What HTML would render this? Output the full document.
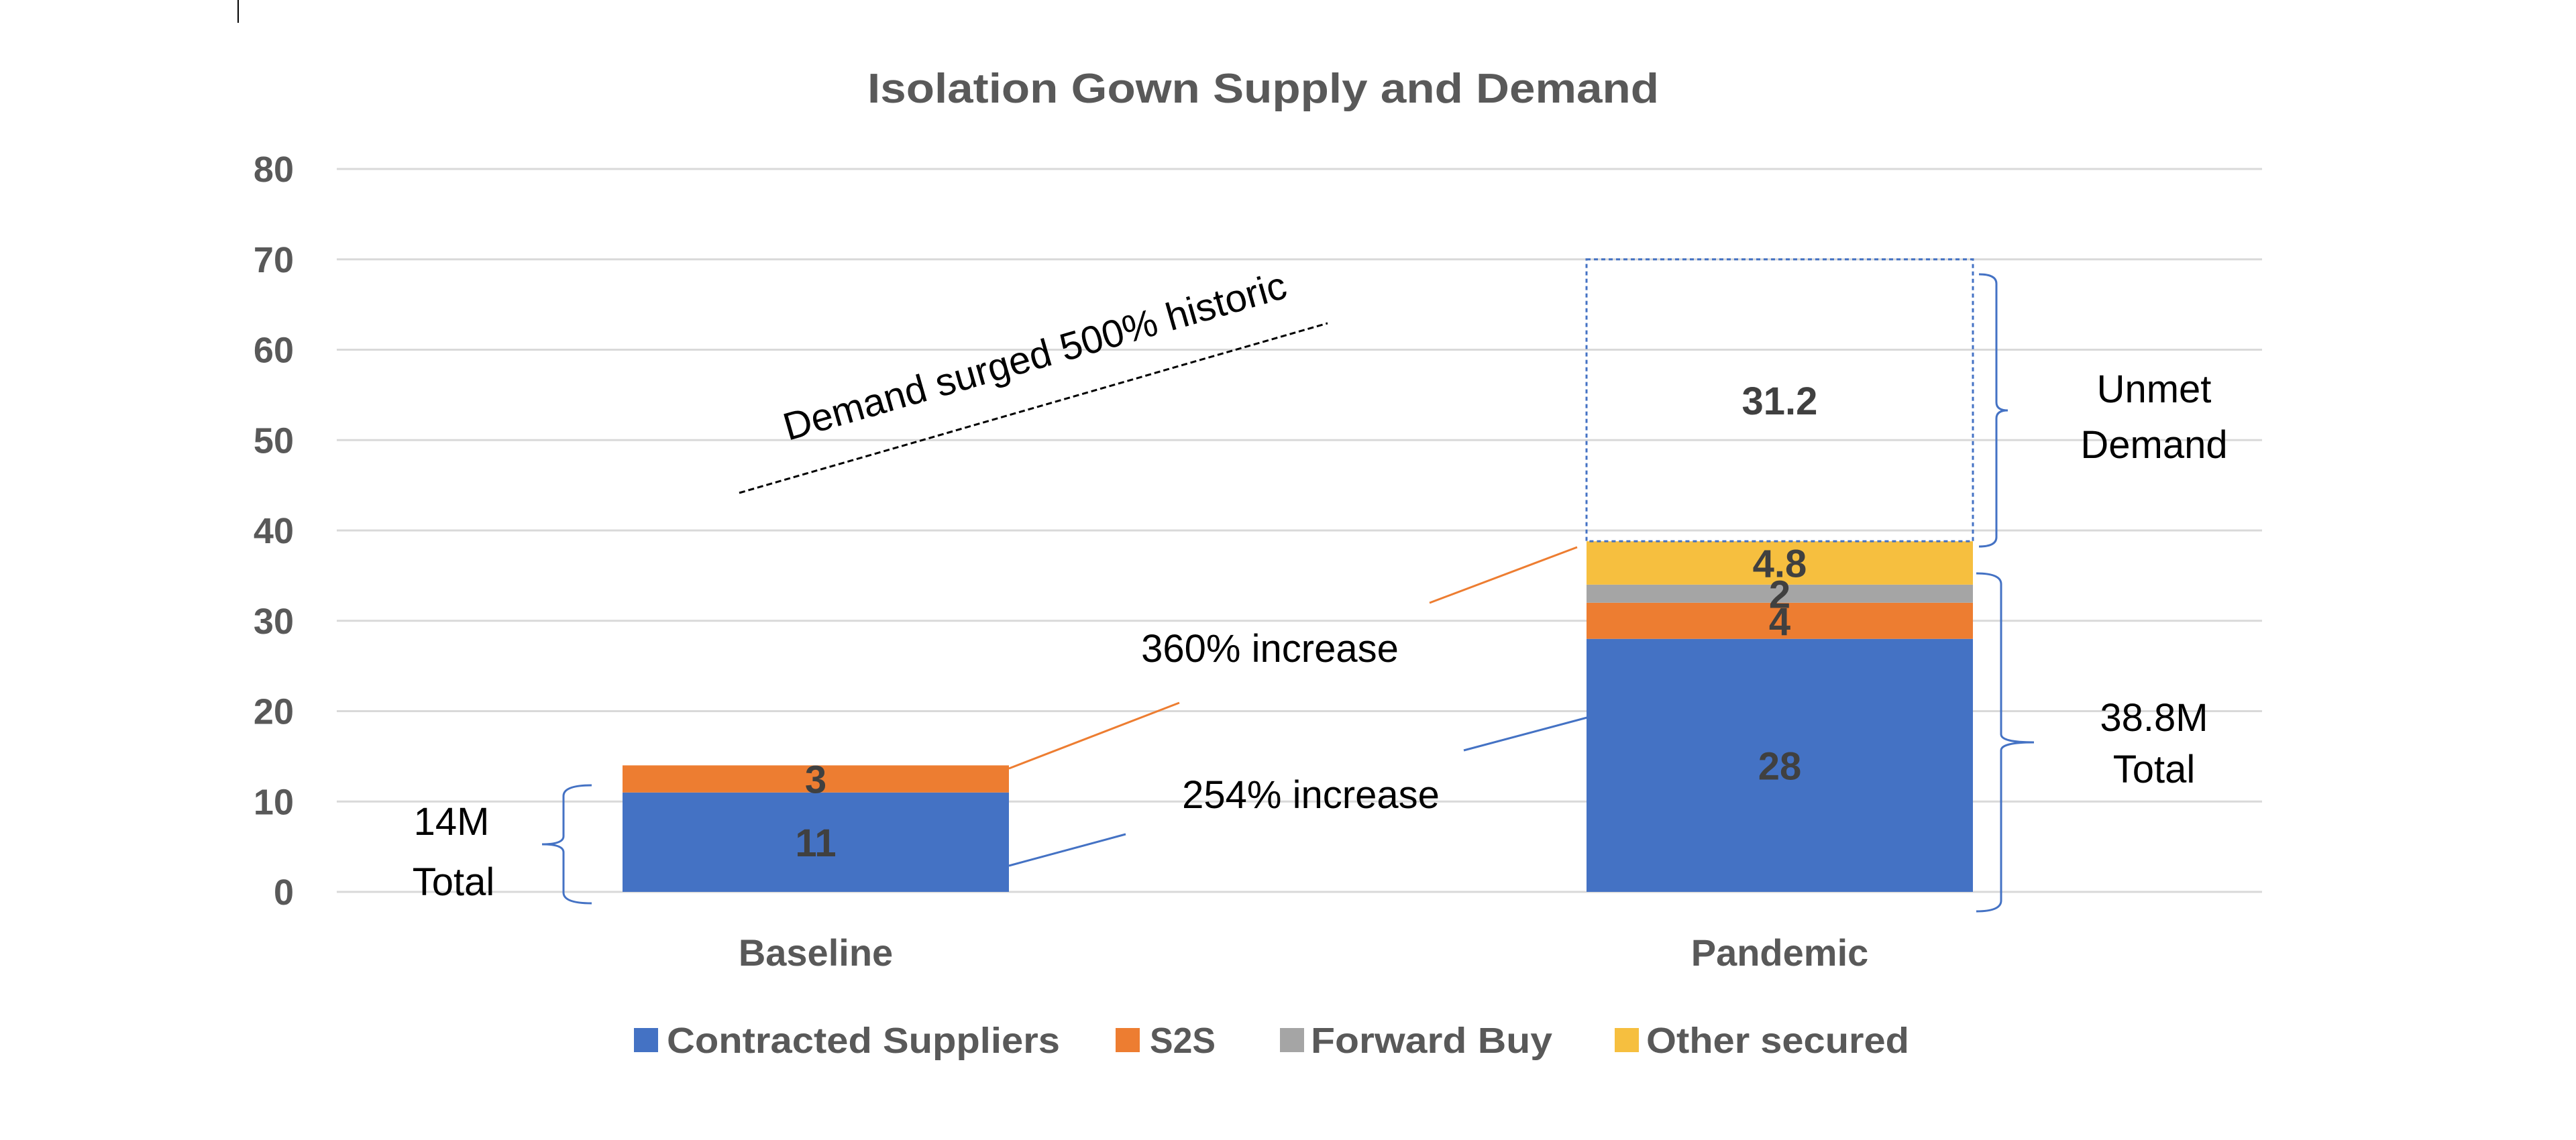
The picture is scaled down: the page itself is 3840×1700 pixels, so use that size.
<!DOCTYPE html>
<html><head><meta charset="utf-8"><style>
html,body{margin:0;padding:0;background:#fff;}
svg{display:block;font-family:"Liberation Sans",sans-serif;}
</style></head><body>
<svg id="chart" width="3840" height="1700" viewBox="0 0 3840 1700">
<line x1="355" y1="0" x2="355" y2="34" stroke="#000" stroke-width="2"/>
<text x="1883" y="153" text-anchor="middle" font-size="62" font-weight="bold" fill="#595959" textLength="1180" lengthAdjust="spacingAndGlyphs">Isolation Gown Supply and Demand</text>
<g id="grid"></g><g id="bars"></g><g id="labels"></g>
<g fill="none" stroke-width="3">
<line x1="1102" y1="735" x2="1979" y2="482" stroke="#000" stroke-dasharray="9,5"/>
<line x1="1504" y1="1146" x2="1758" y2="1048" stroke="#ED7D31"/>
<line x1="2131" y1="899" x2="2351" y2="816" stroke="#ED7D31"/>
<line x1="1504" y1="1291" x2="1678" y2="1244" stroke="#4472C4"/>
<line x1="2182" y1="1119" x2="2366" y2="1070" stroke="#4472C4"/>
<path d="M882,1171 Q840,1171 840,1187 L840,1247 Q840,1259 808,1259 Q840,1259 840,1271 L840,1331 Q840,1347 882,1347" stroke="#4472C4"/>
<path d="M2950,409 Q2976,409 2976,423 L2976,600 Q2976,612 2993,612 Q2976,612 2976,624 L2976,801 Q2976,815 2950,815" stroke="#4472C4"/>
<path d="M2946,855 Q2983,855 2983,871 L2983,1095 Q2983,1107 3032,1107 Q2983,1107 2983,1119 L2983,1343 Q2983,1359 2946,1359" stroke="#4472C4"/>
</g>
<g font-size="58" fill="#000" text-anchor="middle">
<text transform="translate(1548,550) rotate(-16)">Demand surged 500% historic</text>
<text x="1893" y="987">360% increase</text>
<text x="1954" y="1205">254% increase</text>
<text x="673" y="1245">14M</text>
<text x="676" y="1335">Total</text>
<text x="3211" y="600">Unmet</text>
<text x="3211" y="683">Demand</text>
<text x="3211" y="1090">38.8M</text>
<text x="3211" y="1167">Total</text>
</g>
<g id="legend"></g>
</svg>
<script>
const categories = ["Baseline", "Pandemic"];
const seriesNames = ["Contracted Suppliers", "S2S", "Forward Buy", "Other secured"];
const contracted = [11, 28];
const s2s = [3, 4];
const forwardBuy = [0, 2];
const otherSecured = [0, 4.8];
const unmet = [0, 31.2];
const yTicks = [0, 10, 20, 30, 40, 50, 60, 70, 80];
const colors = ["#4472C4", "#ED7D31", "#A5A5A5", "#F6BF3F"];
const NS = "http://www.w3.org/2000/svg";
const y0 = 1330, pxPerUnit = 13.475;
function yScale(v){ return y0 - v * pxPerUnit; }
const catCenter = [1216, 2653], barW = 576;
function xScale(i){ return catCenter[i]; }
function mk(tag, attrs, parent){ const e = document.createElementNS(NS, tag); for (const k in attrs) e.setAttribute(k, attrs[k]); parent.appendChild(e); return e; }
const grid = document.getElementById('grid');
yTicks.forEach(t => {
  const l = mk('line', {x1: 502, x2: 3372, y1: yScale(t), y2: yScale(t), stroke: '#D9D9D9', 'stroke-width': 3}, grid);
  
  
  const tx = mk('text', {x: 438, y: yScale(t) + 19, 'text-anchor': 'end', 'font-size': 54, 'font-weight': 'bold', fill: '#595959'}, grid);
  tx.textContent = t;
  
  
});
const bars = document.getElementById('bars'), labels = document.getElementById('labels');
const series = [contracted, s2s, forwardBuy, otherSecured];
categories.forEach((c, i) => {
  let acc = 0;
  series.forEach((s, k) => {
    const v = s[i];
    if (v > 0) {
      const top = yScale(acc + v), bot = yScale(acc);
      const r = mk('rect', {x: xScale(i) - barW/2, y: top, width: barW, height: bot - top, fill: colors[k]}, bars);
      
      
      const lt = mk('text', {x: xScale(i), y: (top + bot)/2 + 21, 'text-anchor': 'middle', 'font-size': 58, 'font-weight': 'bold', fill: '#404040'}, labels);
      lt.textContent = v;
      
      
    }
    acc += v;
  });
  if (unmet[i] > 0) {
    const top = yScale(acc + unmet[i]), bot = yScale(acc);
    const r = mk('rect', {x: xScale(i) - barW/2, y: top, width: barW, height: bot - top, fill: 'none', stroke: '#4472C4', 'stroke-width': 3, 'stroke-dasharray': '6,5'}, bars);
    
    
    const lt = mk('text', {x: xScale(i), y: (top + bot)/2 + 21, 'text-anchor': 'middle', 'font-size': 58, 'font-weight': 'bold', fill: '#404040'}, labels);
    lt.textContent = unmet[i];
    
    
  }
  const cl = mk('text', {x: xScale(i), y: 1440, 'text-anchor': 'middle', 'font-size': 56, 'font-weight': 'bold', fill: '#595959'}, labels);
  cl.textContent = c;
  
  
});
const legend = document.getElementById('legend');
const legSq = [945, 1663, 1908, 2407], legTx = [994, 1714, 1954, 2454], legW = [586, 98, 360, 392];
seriesNames.forEach((n, k) => {
  const g = mk('g', {}, legend);
  
  
  mk('rect', {x: legSq[k], y: 1533, width: 36, height: 36, fill: colors[k]}, g);
  const t = mk('text', {x: legTx[k], y: 1570, 'font-size': 54, 'font-weight': 'bold', fill: '#595959', textLength: legW[k], lengthAdjust: 'spacingAndGlyphs'}, g);
  t.textContent = n;
});
</script>
</body></html>
